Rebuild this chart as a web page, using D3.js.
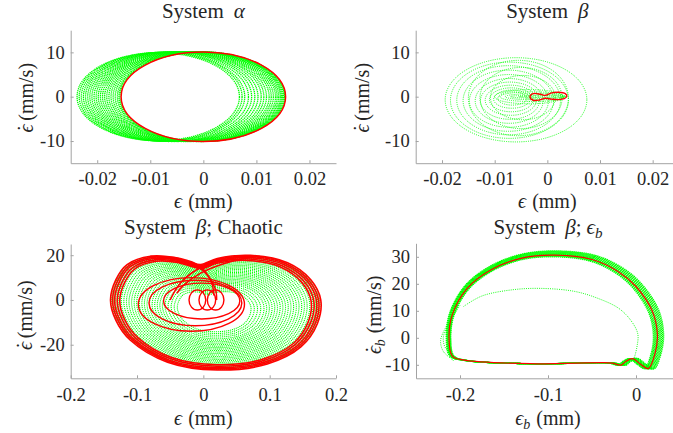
<!DOCTYPE html>
<html>
<head>
<meta charset="utf-8">
<script src="https://cdn.jsdelivr.net/npm/d3@7"></script>
<style>
  body { margin: 0; background: #fff; }
  svg { display: block; }
  svg text { font-family: "Liberation Serif", "DejaVu Serif", serif !important; }
</style>
</head>
<body>
<svg id="chart" width="673" height="433"></svg>
<script>
// ---- data ----
// loops stored as [left, right, top, bottom] extents in data units

// System alpha: drifting ellipses (green) and steady orbit (red)
const alphaGreenLoops = [
  [-0.0238, 0.0068, 9.9, -9.9], [-0.0234, 0.0073, 10.0, -10.0], [-0.0230, 0.0078, 10.0, -10.0],
  [-0.0226, 0.0085, 10.0, -10.0], [-0.0222, 0.0091, 10.1, -10.1], [-0.0218, 0.0097, 10.1, -10.1],
  [-0.0214, 0.0103, 10.1, -10.1], [-0.0210, 0.0109, 10.1, -10.1], [-0.0206, 0.0114, 10.1, -10.1],
  [-0.0202, 0.0119, 10.1, -10.1], [-0.0198, 0.0124, 10.1, -10.1], [-0.0194, 0.0128, 10.1, -10.1],
  [-0.0190, 0.0132, 10.1, -10.1], [-0.0186, 0.0136, 10.1, -10.1], [-0.0182, 0.0139, 10.1, -10.1],
  [-0.0178, 0.0142, 10.1, -10.1], [-0.0174, 0.0145, 10.1, -10.1], [-0.0170, 0.0147, 10.1, -10.1],
  [-0.0166, 0.0149, 10.1, -10.1], [-0.0162, 0.0151, 10.1, -10.1], [-0.0159, 0.0153, 10.1, -10.1],
  [-0.0157, 0.0154, 10.1, -10.1]
];
const alphaRedLoop = [-0.0155, 0.0155, 10.1, -10.1];

// System beta: decaying loops (green) and small limit cycle (red)
const betaGreenLoops = [
  [-0.0194, 0.0075, 8.8, -10.2], [-0.0184, 0.0040, 7.8, -9.4], [-0.0172, 0.0025, 7.0, -8.6],
  [-0.0160, 0.0012, 6.0, -7.8], [-0.0148, 0.0002, 5.0, -6.9], [-0.0137, -0.0008, 4.1, -6.0],
  [-0.0127, -0.0015, 3.3, -5.1], [-0.0118, -0.0021, 2.6, -4.2], [-0.0110, -0.0027, 2.0, -3.4],
  [-0.0102, -0.0033, 1.5, -2.6], [-0.0094, -0.0039, 1.1, -1.9],
  [-0.0150, 0.0040, 8.2, -8.8], [-0.0128, 0.0028, 6.6, -7.2], [-0.0108, 0.0015, 4.8, -5.2],
  [-0.0100, 0.0030, 1.6, -1.6], [-0.0090, 0.0032, 1.1, -1.1], [-0.0080, 0.0035, 0.7, -0.7],
  [-0.0070, 0.0036, 0.35, -0.35], [-0.0055, 0.0030, 0.15, -0.15]
];
const betaRedCycle = [
  [-0.0033, 0], [-0.0027, 0.7], [-0.0013, 0.55], [-0.0004, 0.3], [0.0008, 0.85], [0.0021, 1.0],
  [0.0034, 0.7], [0.0037, 0.1], [0.0032, -0.45], [0.0022, -0.65], [0.0008, -0.55],
  [-0.0004, -0.35], [-0.0015, -0.75], [-0.0027, -0.8]
];

// System beta, chaotic: outer heart-shaped envelope, and the loop scales of each band
const chaosOutline = [
  [-0.004, 15.8], [0.021, 18.5], [0.071, 19.9], [0.127, 16.6], [0.162, 9.0], [0.177, 0],
  [0.172, -10.5], [0.147, -21], [0.0965, -28.6], [0.021, -31.3], [-0.054, -27.8],
  [-0.11, -18], [-0.132, -9], [-0.140, 0], [-0.132, 9.0], [-0.115, 15.8], [-0.0795, 19.5],
  [-0.0443, 18.9], [-0.02, 16.8]
];
const chaosCenter = [0.015, -5];
const chaosRedScales = [1.0, 0.98, 0.96, 0.935, 0.91];
const chaosGreenScales = [0.99, 0.97, 0.95, 0.925, 0.895, 0.87, 0.845, 0.82, 0.795, 0.77,
  0.745, 0.72, 0.695, 0.67, 0.645, 0.62, 0.595, 0.57, 0.545, 0.52, 0.495, 0.47, 0.44, 0.41, 0.38, 0.35];
const chaosRedLoops = [
  [-0.098, 0.062, 10, -14], [-0.082, 0.058, 8.8, -11.5], [-0.060, 0.055, 7.5, -8.5],
  [-0.0216, 0.0036, 4.5, -4.5], [-0.0066, 0.0186, 4.5, -4.5], [0.0060, 0.0310, 4.5, -4.5]
];
const chaosRedStrands = [
  [[-0.08, 19.5], [-0.035, 18.5], [-0.005, 15], [0.012, 8], [0.016, 2]],
  [[-0.07, 19.2], [-0.03, 17.6], [0.0, 13], [0.018, 5], [0.02, 0]],
  [[-0.04, 3], [-0.03, 6.5], [-0.004, 12], [0.046, 17.5], [0.085, 19.5]],
  [[-0.05, 0], [-0.036, 7], [-0.01, 13.5], [0.03, 17.8], [0.07, 19.6]]
];

// System beta, eps_b: closed orbit (red), its spread (green scales) and transient pieces
const ebRedOrbit = [
  [-0.093, 30.6], [-0.05, 29.0], [-0.02, 24.5], [0.0, 19], [0.0186, 9.8], [0.0243, 1.2],
  [0.0215, -6], [0.014, -11.4], [0.0053, -9.8], [-0.004, -7.7], [-0.0117, -8.8], [-0.017, -10.1],
  [-0.027, -9.4], [-0.036, -9.2], [-0.12, -9.6], [-0.195, -8.3], [-0.2087, -6.8], [-0.2125, 0],
  [-0.2087, 8.6], [-0.1916, 18.4], [-0.165, 25.1], [-0.131, 29.4]
];
const ebCenter = [-0.14, -9];
const ebGreenScales = [
  [0.972, 0.985], [0.978, 0.99], [0.984, 0.995], [0.99, 1.0], [0.996, 1.005], [1.002, 1.01],
  [1.008, 1.015], [1.015, 1.02], [1.022, 1.025], [1.029, 1.03], [1.036, 1.035], [1.043, 1.04]
];
const ebGreenPieces = [
  [[-0.196, 11.6], [-0.175, 15.5], [-0.14, 17.8], [-0.108, 18.3], [-0.07, 17.2], [-0.044, 14.7],
   [-0.02, 11], [-0.006, 6.5], [0.002, 1.5], [0.001, -3.5], [-0.002, -7.5]],
  [[-0.205, 10], [-0.216, 4], [-0.222, -1], [-0.219, -5], [-0.207, -8.5]],
  [[-0.2, 12], [-0.213, 5], [-0.219, 0], [-0.216, -4], [-0.2, -8]]
];

// axes ticks
const ticksX1 = [-0.02, -0.01, 0, 0.01, 0.02];
const ticksY1 = [-10, 0, 10];
const ticksX3 = [-0.2, -0.1, 0, 0.1, 0.2];
const ticksY3 = [-20, 0, 20];
const ticksX4 = [-0.2, -0.1, 0];
const ticksY4 = [-10, 0, 10, 20, 30];

// ---- drawing ----
const svg = d3.select('#chart');
const GREEN = '#00ff00';
const RED = '#ff0000';
const INK = '#262626';

function makePanel({ xd, xr, yd, yr, xt, yt, title, xlab, ylab, ylabX, ylabShift, tickPad }) {
  const x = d3.scaleLinear().domain(xd).range(xr);
  const y = d3.scaleLinear().domain(yd).range(yr);
  const g = svg.append('g');
  const marks = g.append('g');

  const ax = g.append('g')
    .attr('transform', `translate(0,${yr[0]})`)
    .call(d3.axisBottom(x).tickValues(xt).tickSizeInner(-3).tickSizeOuter(0)
      .tickPadding(tickPad).tickFormat((d) => String(d)));
  const ay = g.append('g')
    .attr('transform', `translate(${xr[0]},0)`)
    .call(d3.axisLeft(y).tickValues(yt).tickSizeInner(-3).tickSizeOuter(0)
      .tickPadding(6).tickFormat((d) => String(d)));
  [ax, ay].forEach((a) => {
    a.select('.domain').attr('stroke', '#a3a3a3');
    a.selectAll('.tick line').attr('stroke', '#a3a3a3');
    a.selectAll('.tick text').attr('font-size', 18.5).attr('fill', INK);
  });

  const cx = (xr[0] + xr[1]) / 2;
  const cy = (yr[0] + yr[1]) / 2;
  const txt = (size) => (sel) => sel.attr('text-anchor', 'middle').attr('font-size', size).attr('fill', INK);

  title.parts(g.append('text').attr('x', cx).attr('y', title.y).call(txt(21)));
  xlab.parts(g.append('text').attr('x', cx).attr('y', xlab.y).call(txt(20)));
  ylab(g.append('text')
    .attr('transform', `translate(${ylabX},${cy + ylabShift}) rotate(-90)`)
    .call(txt(20)));

  return { x, y, marks };
}

function drawLoops(p, loops, color, width, dash) {
  p.marks.append('g')
    .selectAll('ellipse')
    .data(loops)
    .join('ellipse')
    .attr('cx', (d) => p.x((d[0] + d[1]) / 2))
    .attr('cy', (d) => p.y((d[2] + d[3]) / 2))
    .attr('rx', (d) => (p.x(d[1]) - p.x(d[0])) / 2)
    .attr('ry', (d) => (p.y(d[3]) - p.y(d[2])) / 2)
    .attr('fill', 'none')
    .attr('stroke', color)
    .attr('stroke-width', width)
    .attr('stroke-dasharray', dash || null);
}

function drawScaled(p, shape, center, scales, color, width, dash) {
  const line = d3.line().curve(d3.curveCatmullRomClosed.alpha(0.5));
  p.marks.append('g')
    .selectAll('path')
    .data(scales)
    .join('path')
    .attr('d', (s) => {
      const sx = Array.isArray(s) ? s[0] : s;
      const sy = Array.isArray(s) ? s[1] : s;
      return line(shape.map((d) => [
        p.x(center[0] + sx * (d[0] - center[0])),
        p.y(center[1] + sy * (d[1] - center[1]))
      ]));
    })
    .attr('fill', 'none')
    .attr('stroke', color)
    .attr('stroke-width', width)
    .attr('stroke-dasharray', dash || null);
}

function drawPaths(p, paths, closed, color, width, dash) {
  const line = d3.line()
    .x((d) => p.x(d[0])).y((d) => p.y(d[1]))
    .curve(closed ? d3.curveCatmullRomClosed.alpha(0.5) : d3.curveCatmullRom.alpha(0.5));
  p.marks.append('g')
    .selectAll('path')
    .data(paths)
    .join('path')
    .attr('d', line)
    .attr('fill', 'none')
    .attr('stroke', color)
    .attr('stroke-width', width)
    .attr('stroke-dasharray', dash || null);
}

// label helpers
const sysTitle = (greek, extra) => (t) => {
  t.append('tspan').text('System');
  t.append('tspan').attr('dx', 10).attr('font-style', 'italic').text(greek);
  if (extra) extra(t);
};
const epsLabel = (sub) => (t) => {
  t.append('tspan').attr('font-style', 'italic').text('\u03f5');
  if (sub) t.append('tspan').attr('font-style', 'italic').attr('font-size', 14).attr('dy', 4).text('b');
  t.append('tspan').attr('dy', sub ? -4 : 0).attr('dx', 6).text('(mm)');
};
const epsDotLabel = (sub) => (t) => {
  t.append('tspan').attr('font-style', 'italic').text('\u03f5');
  t.append('tspan').attr('dx', -7).attr('dy', -1).text('\u02d9');
  if (sub) t.append('tspan').attr('font-style', 'italic').attr('font-size', 14).attr('dy', 5).text('b');
  t.append('tspan').attr('dy', sub ? -4 : 1).attr('dx', sub ? 6 : 4).text('(mm/s)');
};

const dotted = '1 1.2';

// Panel 1: System alpha
const p1 = makePanel({
  xd: [-0.025, 0.025], xr: [70.7, 336], yd: [-15, 15], yr: [163.2, 30.2],
  xt: ticksX1, yt: ticksY1,
  title: { y: 18, parts: sysTitle('\u03b1') },
  xlab: { y: 208, parts: epsLabel(false) },
  ylab: epsDotLabel(false), ylabX: 33, ylabShift: 1, tickPad: 9
});
drawLoops(p1, alphaGreenLoops, GREEN, 1.3, '1.3 0.7');
drawLoops(p1, [alphaRedLoop], RED, 1.5);

// Panel 2: System beta
const p2 = makePanel({
  xd: [-0.025, 0.025], xr: [415.7, 679], yd: [-15, 15], yr: [163.2, 30.2],
  xt: ticksX1, yt: ticksY1,
  title: { y: 18, parts: sysTitle('\u03b2') },
  xlab: { y: 208, parts: epsLabel(false) },
  ylab: epsDotLabel(false), ylabX: 369, ylabShift: 1, tickPad: 9
});
drawLoops(p2, betaGreenLoops, GREEN, 0.9, dotted);
drawPaths(p2, [betaRedCycle], true, RED, 1.4);

// Panel 3: System beta; Chaotic
const p3 = makePanel({
  xd: [-0.2, 0.2], xr: [70.7, 336], yd: [-35, 25], yr: [378.3, 244],
  xt: ticksX3, yt: ticksY3,
  title: { y: 234, parts: sysTitle('\u03b2', (t) => t.append('tspan').text('; Chaotic')) },
  xlab: { y: 425, parts: epsLabel(false) },
  ylab: epsDotLabel(false), ylabX: 32, ylabShift: 4, tickPad: 10
});
drawScaled(p3, chaosOutline, chaosCenter, chaosGreenScales, GREEN, 1.1, '1.1 0.9');
drawScaled(p3, chaosOutline, chaosCenter, chaosRedScales, RED, 1.6);
drawLoops(p3, chaosRedLoops, RED, 1.4);
drawPaths(p3, chaosRedStrands, false, RED, 1.5);

// Panel 4: System beta; eps_b
const p4 = makePanel({
  xd: [-0.25, 0.05], xr: [416, 680], yd: [-15, 35], yr: [378.3, 243.3],
  xt: ticksX4, yt: ticksY4,
  title: {
    y: 234,
    parts: sysTitle('\u03b2', (t) => {
      t.append('tspan').text(';');
      t.append('tspan').attr('dx', 5).attr('font-style', 'italic').text('\u03f5');
      t.append('tspan').attr('font-style', 'italic').attr('font-size', 15).attr('dy', 4).text('b');
    })
  },
  xlab: { y: 425, parts: epsLabel(true) },
  ylab: epsDotLabel(true), ylabX: 381, ylabShift: 4, tickPad: 10
});
drawScaled(p4, ebRedOrbit, ebCenter, ebGreenScales, GREEN, 1.3, '1.3 0.7');
drawPaths(p4, ebGreenPieces, false, GREEN, 0.9, dotted);
drawPaths(p4, [ebRedOrbit], true, RED, 1.2);
</script>
</body>
</html>
